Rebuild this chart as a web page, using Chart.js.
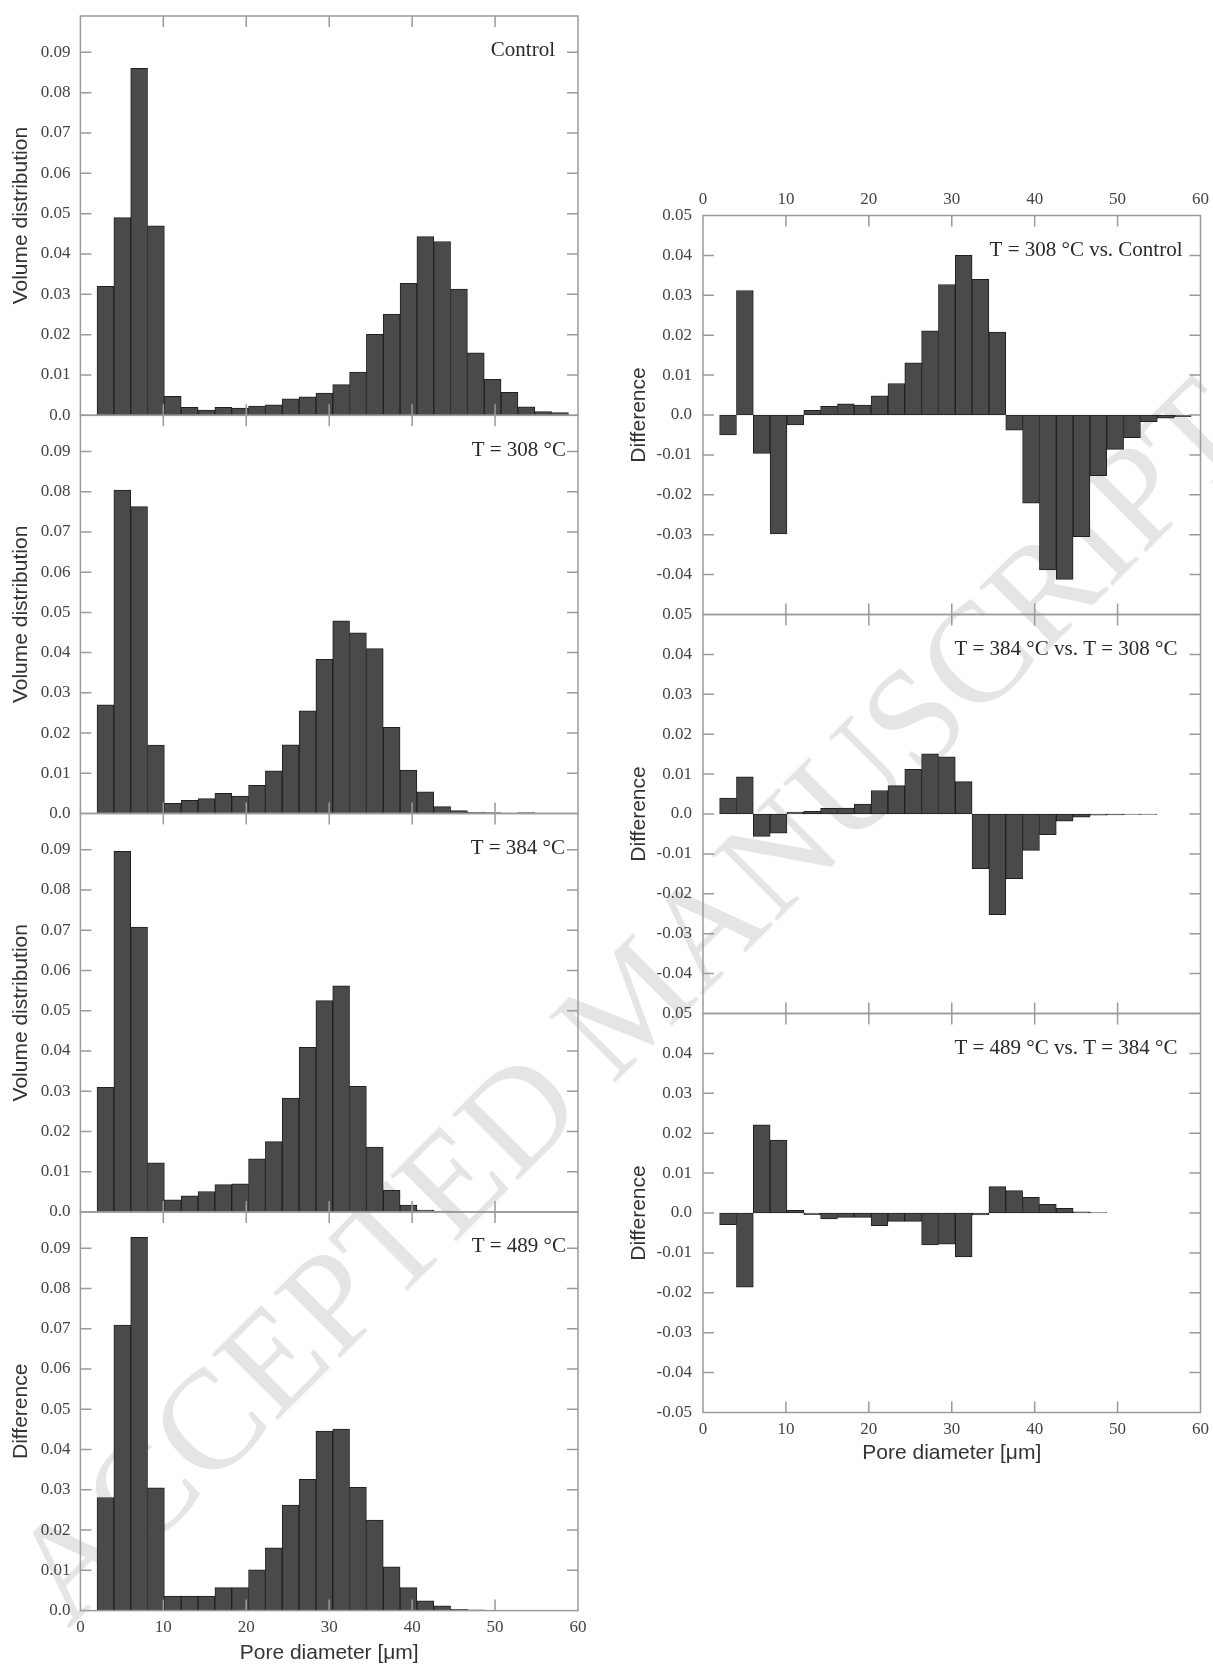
<!DOCTYPE html>
<html><head><meta charset="utf-8">
<script src="https://cdn.jsdelivr.net/npm/chart.js@4.4.1/dist/chart.umd.min.js"></script>
<style>
html,body{margin:0;padding:0;background:#fff;}
#wrap{position:relative;width:1213px;height:1665px;overflow:hidden;background:#fff;}
#wm{position:absolute;left:630px;top:1000px;transform:translate(-50%,-50%) rotate(-45deg);font-family:"Liberation Serif",serif;font-size:142px;line-height:1;color:#e5e5e5;white-space:nowrap;z-index:0;}
canvas{position:absolute;left:0;top:0;z-index:1;}
</style></head><body>
<div id="wrap">
<div id="wm">ACCEPTED MANUSCRIPT</div>
<canvas id="L0" width="1213" height="1665"></canvas>
<canvas id="L1" width="1213" height="1665"></canvas>
<canvas id="L2" width="1213" height="1665"></canvas>
<canvas id="L3" width="1213" height="1665"></canvas>
<canvas id="R0" width="1213" height="1665"></canvas>
<canvas id="R1" width="1213" height="1665"></canvas>
<canvas id="R2" width="1213" height="1665"></canvas>
</div>
<script>
// ---- data ----
const binCenters = [3.02, 5.05, 7.08, 9.11, 11.14, 13.17, 15.20, 17.23, 19.26, 21.29, 23.32, 25.35, 27.38, 29.41,
                    31.44, 33.47, 35.50, 37.53, 39.56, 41.59, 43.62, 45.65, 47.68, 49.71, 51.74, 53.77, 55.80, 57.83];

const control = [0.0320, 0.0490, 0.0860, 0.0470, 0.0047, 0.0020, 0.0013, 0.0020, 0.0018, 0.0023, 0.0026, 0.0041, 0.0046, 0.0055,
                 0.0076, 0.0107, 0.0201, 0.0251, 0.0327, 0.0443, 0.0431, 0.0313, 0.0155, 0.0089, 0.0057, 0.0021, 0.0009, 0.0007];
const t308 = [0.0270, 0.0804, 0.0763, 0.0170, 0.0025, 0.0033, 0.0037, 0.0050, 0.0043, 0.0070, 0.0106, 0.0171, 0.0255, 0.0383,
              0.0479, 0.0449, 0.0410, 0.0214, 0.0108, 0.0054, 0.0017, 0.0007, 0.0003, 0.0002, 0.0001, 0.0002];
const t384 = [0.0310, 0.0896, 0.0708, 0.0122, 0.0030, 0.0040, 0.0051, 0.0068, 0.0070, 0.0132, 0.0175, 0.0283, 0.0409, 0.0525,
              0.0562, 0.0312, 0.0161, 0.0054, 0.0017, 0.0005, 0.0002, 0.0001];
const t489 = [0.0281, 0.0709, 0.0927, 0.0305, 0.0036, 0.0036, 0.0036, 0.0057, 0.0057, 0.0101, 0.0156, 0.0262, 0.0326, 0.0446,
              0.0451, 0.0306, 0.0225, 0.0109, 0.0057, 0.0024, 0.0012, 0.0003, 0.0002];

const diff308vsControl = [-0.0050, 0.0312, -0.0096, -0.0298, -0.0025, 0.0012, 0.0022, 0.0028, 0.0025, 0.0048, 0.0079, 0.0131, 0.0211, 0.0327,
                          0.0400, 0.0340, 0.0208, -0.0038, -0.0221, -0.0388, -0.0412, -0.0305, -0.0152, -0.0086, -0.0057, -0.0017, -0.0008, -0.0004];
const diff384vs308 = [0.0040, 0.0093, -0.0056, -0.0048, 0.0005, 0.0007, 0.0014, 0.0015, 0.0025, 0.0059, 0.0071, 0.0112, 0.0151, 0.0143,
                      0.0081, -0.0137, -0.0252, -0.0162, -0.0091, -0.0052, -0.0018, -0.0008, -0.0003, -0.0002, -0.0001, -0.0001];
const diff489vs384 = [-0.0029, -0.0186, 0.0221, 0.0183, 0.0007, -0.0004, -0.0015, -0.0011, -0.0011, -0.0032, -0.0021, -0.0021, -0.0080, -0.0078,
                      -0.0110, -0.0005, 0.0066, 0.0056, 0.0039, 0.0022, 0.0012, 0.0003, 0.0001];

const xTickValues = [0, 10, 20, 30, 40, 50, 60];
const xTickLabels = ['0', '10', '20', '30', '40', '50', '60'];
const volTickValues = [0, 0.01, 0.02, 0.03, 0.04, 0.05, 0.06, 0.07, 0.08, 0.09];
const volTickLabels = ['0.0', '0.01', '0.02', '0.03', '0.04', '0.05', '0.06', '0.07', '0.08', '0.09'];
const diffTickValues = [-0.05, -0.04, -0.03, -0.02, -0.01, 0, 0.01, 0.02, 0.03, 0.04, 0.05];
const diffTickLabels = ['-0.05', '-0.04', '-0.03', '-0.02', '-0.01', '0.0', '0.01', '0.02', '0.03', '0.04', '0.05'];

const panelLabels = ['Control', 'T = 308 \u00B0C', 'T = 384 \u00B0C', 'T = 489 \u00B0C',
                     'T = 308 \u00B0C vs. Control', 'T = 384 \u00B0C vs. T = 308 \u00B0C', 'T = 489 \u00B0C vs. T = 384 \u00B0C'];

// ---- styling / drawing ----
const TICK_FONT = {family: 'Liberation Serif', size: 17};
const TICK_COLOR = '#444';
const TITLE_FONT = {family: 'Liberation Sans', size: 21, lineHeight: 1};
const FRAME = '#9a9a9a';

const framePlugin = {
  id: 'frame',
  afterDatasetsDraw(chart, args, o) {
    const {ctx, chartArea: a} = chart;
    const x = chart.scales.x, y = chart.scales.y;
    const L = 11;
    ctx.save();
    ctx.strokeStyle = FRAME;
    ctx.lineWidth = 1.5;
    ctx.beginPath();
    xTickValues.filter(v => v > x.min && v < x.max).forEach(v => {
      const px = x.getPixelForValue(v);
      ctx.moveTo(px, a.bottom); ctx.lineTo(px, a.bottom - L);
      ctx.moveTo(px, a.top); ctx.lineTo(px, a.top + L);
    });
    o.yTicks.filter(v => v > y.min + 1e-9 && v < y.max - 1e-9).forEach(v => {
      const py = y.getPixelForValue(v);
      ctx.moveTo(a.left, py); ctx.lineTo(a.left + L, py);
      ctx.moveTo(a.right, py); ctx.lineTo(a.right - L, py);
    });
    ctx.stroke();
    ctx.strokeRect(a.left, a.top, a.right - a.left, a.bottom - a.top);
    ctx.fillStyle = '#2a2a2a';
    ctx.font = '21px "Liberation Serif"';
    ctx.textAlign = 'right';
    ctx.textBaseline = 'alphabetic';
    ctx.fillText(o.label, a.right - o.labelRight, y.getPixelForValue(o.labelAt) + o.labelDy);
    ctx.restore();
  }
};

function makePanel(id, p) {
  const tickVals = p.yTickValues, tickLabs = p.yTickLabels;
  new Chart(document.getElementById(id), {
    type: 'bar',
    data: {
      datasets: [{
        data: p.values.map((v, i) => ({x: binCenters[i], y: v})),
        backgroundColor: '#4a4a4a',
        borderColor: '#202020',
        borderWidth: 1,
        borderSkipped: false,
        barPercentage: 1,
        categoryPercentage: 1
      }]
    },
    options: {
      responsive: false,
      animation: false,
      events: [],
      layout: {autoPadding: false, padding: p.pad},
      plugins: {
        legend: {display: false},
        tooltip: {enabled: false},
        frame: {yTicks: tickVals, label: p.label, labelRight: p.labelRight, labelAt: p.labelAt, labelDy: p.labelDy}
      },
      scales: {
        x: {
          type: 'linear', min: 0, max: 60, offset: false,
          position: p.xPos || 'bottom',
          display: !!p.xPos,
          grid: {display: false, drawTicks: false},
          border: {display: false},
          afterBuildTicks: s => { s.ticks = xTickValues.map(v => ({value: v})); },
          ticks: {autoSkip: false, maxRotation: 0, padding: p.xPad || 0, font: TICK_FONT, color: TICK_COLOR,
                  callback: v => xTickLabels[xTickValues.indexOf(v)]},
          title: {display: !!p.xTitle, text: p.xTitle || '', font: TITLE_FONT, color: '#333', padding: 0},
          afterFit: s => {
            if (p.xPos) s.height = p.xHeight;
            s.paddingLeft = 0; s.paddingRight = 0; s.paddingTop = 0; s.paddingBottom = 0;
          }
        },
        y: {
          type: 'linear', min: p.yMin, max: p.yMax, position: 'left',
          grid: {display: false, drawTicks: false},
          border: {display: false},
          afterBuildTicks: s => { s.ticks = tickVals.map(v => ({value: v})); },
          ticks: {autoSkip: false, padding: p.yPad, font: TICK_FONT, color: TICK_COLOR,
                  callback: v => tickLabs[tickVals.indexOf(v)]},
          title: {display: true, text: p.yTitle, font: TITLE_FONT, color: '#333', padding: 0},
          afterFit: s => {
            s.width = p.yWidth;
            s.paddingLeft = 0; s.paddingRight = 0; s.paddingTop = 0; s.paddingBottom = 0;
          }
        }
      }
    },
    plugins: [framePlugin]
  });
}

const W = 1213, H = 1665;
// left column: plot area x 80.4..578
const leftBounds = [16, 415.3, 813.5, 1212, 1610.6];
const leftSeries = [control, t308, t384, t489];
const leftTitles = ['Volume distribution', 'Volume distribution', 'Volume distribution', 'Difference'];
const leftLabelRight = [23, 12, 13, 12];
for (let k = 0; k < 4; k++) {
  const last = k === 3;
  makePanel('L' + k, {
    values: leftSeries[k],
    yMin: 0, yMax: 0.099,
    yTickValues: volTickValues, yTickLabels: volTickLabels,
    yTitle: leftTitles[k], yWidth: 69.4, yPad: 10,
    pad: {left: 11, right: W - 578, top: leftBounds[k], bottom: H - leftBounds[k + 1] - (last ? 53.2 : 0)},
    xPos: last ? 'bottom' : null, xHeight: 53.2, xPad: 7, xTitle: last ? 'Pore diameter [\u03BCm]' : null,
    label: panelLabels[k], labelRight: leftLabelRight[k], labelAt: 0.09, labelDy: 4
  });
}
// right column: plot area x 703..1200.5
const rightBounds = [215.5, 614.5, 1013.5, 1412.5];
const rightSeries = [diff308vsControl, diff384vs308, diff489vs384];
const rightLabelRight = [18, 23, 23];
for (let k = 0; k < 3; k++) {
  const first = k === 0, last = k === 2;
  const tv = last ? diffTickValues : diffTickValues.slice(1);
  const tl = last ? diffTickLabels : diffTickLabels.slice(1);
  makePanel('R' + k, {
    values: rightSeries[k],
    yMin: -0.05, yMax: 0.05,
    yTickValues: tv, yTickLabels: tl,
    yTitle: 'Difference', yWidth: 74.5, yPad: 11,
    pad: {left: 628.5, right: W - 1200.5,
          top: rightBounds[k] - (first ? 30 : 0),
          bottom: H - rightBounds[k + 1] - (last ? 50.8 : 0)},
    xPos: first ? 'top' : (last ? 'bottom' : null),
    xHeight: first ? 30 : 50.8, xPad: first ? 6 : 7,
    xTitle: last ? 'Pore diameter [\u03BCm]' : null,
    label: panelLabels[4 + k], labelRight: rightLabelRight[k], labelAt: 0.04, labelDy: 1
  });
}
</script>
</body></html>
